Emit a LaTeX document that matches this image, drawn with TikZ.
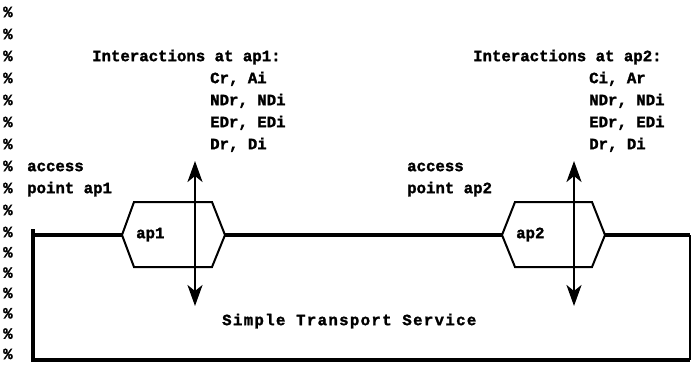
\documentclass[tikz,border=0pt]{standalone}
\usepackage{fontspec}
\usetikzlibrary{arrows.meta}
\newfontfamily\prfont{Liberation Mono}[FakeBold=1.6]
\newfontfamily\prwide{Liberation Mono}[LetterSpace=8.5,FakeBold=1.6]

\tikzset{
  txt/.style={anchor=mid west, inner sep=0pt, font=\prfont\bfseries\fontsize{15.7}{22}\selectfont},
  widetxt/.style={anchor=mid west, inner sep=0pt, font=\prwide\bfseries\fontsize{15.7}{22}\selectfont},
  service/.style={line width=4pt, line join=miter},
  thinside/.style={line width=1.5pt},
  apbox/.style={line width=2pt, line join=miter},
  prim/.style={line width=2.6pt, {Stealth[length=21pt,width=15pt,inset=6pt]}-{Stealth[length=21pt,width=15pt,inset=6pt]}}
}

\begin{document}
\begin{tikzpicture}[x=1pt,y=-1pt]
\useasboundingbox (0,0) rectangle (692,364);
\fill[white] (0,0) rectangle (692,364);

% comment markers down the left margin
\foreach \r in {1,...,11}
  \node[txt] (pct\r) at (3,{15+22*(\r-1)}) {\%};
\foreach \r in {12,...,17}
  \node[txt] (pct\r) at (3,{235+20.33*(\r-11)}) {\%};

% interaction lists above the access points
\node[txt] (int1) at (92,59) {Interactions at ap1:};
\node[txt] (l1a) at (210,81) {Cr, Ai};
\node[txt] (l1b) at (210,103) {NDr, NDi};
\node[txt] (l1c) at (210,125) {EDr, EDi};
\node[txt] (l1d) at (210,147) {Dr, Di};

\node[txt] (int2) at (473,59) {Interactions at ap2:};
\node[txt] (l2a) at (589,81) {Ci, Ar};
\node[txt] (l2b) at (589,103) {NDr, NDi};
\node[txt] (l2c) at (589,125) {EDr, EDi};
\node[txt] (l2d) at (589,147) {Dr, Di};

\node[txt] (acc1) at (27,169) {access};
\node[txt] (pt1) at (27,191) {point ap1};
\node[txt] (acc2) at (407,169) {access};
\node[txt] (pt2) at (407,191) {point ap2};

\node[widetxt] (sts) at (222,323) {Simple Transport Service};

% corners of the service boundary
\coordinate (tl) at (33,235);
\coordinate (tltick) at (33,229);
\coordinate (bl) at (33,360);
\coordinate (br) at (690,360);
\coordinate (tr) at (690,235);

% access point ap1
\coordinate (h1w) at (122,235);
\coordinate (h1nw) at (134,202);
\coordinate (h1ne) at (212,202);
\coordinate (h1e) at (225,235);
\coordinate (h1se) at (212,267);
\coordinate (h1sw) at (134,267);
\draw[apbox] (h1w) -- (h1nw) -- (h1ne) -- (h1e) -- (h1se) -- (h1sw) -- cycle;
\node[txt] (ap1) at (136,236) {ap1};

% access point ap2
\coordinate (h2w) at (502,235);
\coordinate (h2nw) at (515,202);
\coordinate (h2ne) at (592,202);
\coordinate (h2e) at (605,235);
\coordinate (h2se) at (592,267);
\coordinate (h2sw) at (515,267);
\draw[apbox] (h2w) -- (h2nw) -- (h2ne) -- (h2e) -- (h2se) -- (h2sw) -- cycle;
\node[txt] (ap2) at (516,236) {ap2};

% service boundary
\draw[service] (tl) -- (h1w);
\draw[service] (h1e) -- (h2w);
\draw[service] (h2e) -- (tr);
\draw[service] (tltick) -- (bl) -- (br);
\draw[thinside] (tr) -- (br);

% interactions crossing each access point
\coordinate (a1t) at (195,161);
\coordinate (a1b) at (195,306);
\coordinate (a2t) at (574,161);
\coordinate (a2b) at (574,306);
\draw[prim] (a1t) -- (a1b);
\draw[prim] (a2t) -- (a2b);
\end{tikzpicture}
\end{document}
